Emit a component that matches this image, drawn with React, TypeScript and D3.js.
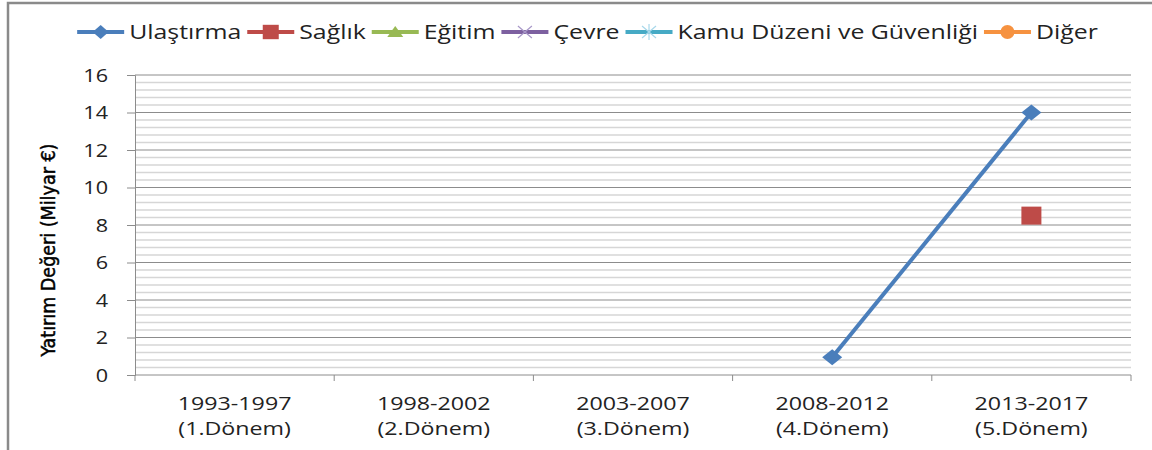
import React, { useEffect, useRef } from "react";
import * as d3 from "d3";

// periods on the x axis
const periods = ["1993-1997", "1998-2002", "2003-2007", "2008-2012", "2013-2017"];
const periodNames = ["(1.Dönem)", "(2.Dönem)", "(3.Dönem)", "(4.Dönem)", "(5.Dönem)"];

// series values (Milyar €), null = no value
const ulastirma = [null, null, null, 0.95, 14];
const saglik = [null, null, null, null, 8.5];
const egitim = [null, null, null, null, null];
const cevre = [null, null, null, null, null];
const kamuDuzeni = [null, null, null, null, null];
const diger = [null, null, null, null, null];

const seriesNames = ["Ulaştırma", "Sağlık", "Eğitim", "Çevre", "Kamu Düzeni ve Güvenliği", "Diğer"];
const seriesColors = ["#4a7ebb", "#be4b48", "#98b954", "#7d60a0", "#46aac5", "#f69240"];
const seriesMarkers = ["diamond", "square", "triangle", "cross", "star", "circle"];
const seriesValues = [ulastirma, saglik, egitim, cevre, kamuDuzeni, diger];

const yTicks = [0, 2, 4, 6, 8, 10, 12, 14, 16];
const yLabel = "Yatırım Değeri (Milyar  €)";

const FONT = "'Open Sans', 'Noto Sans', sans-serif";
const SX = 1.2; // the original text is a bit wide

function drawMarker(g, type, cx, cy, color, legend) {
  if (type === "diamond") {
    const w = legend ? 8 : 10, h = legend ? 7 : 8;
    g.append("path")
      .attr("d", `M${cx - w},${cy}L${cx},${cy - h}L${cx + w},${cy}L${cx},${cy + h}Z`)
      .attr("fill", color);
  } else if (type === "square") {
    const s = legend ? 8 : 10;
    g.append("rect")
      .attr("x", cx - s).attr("y", cy - s * 0.9)
      .attr("width", s * 2).attr("height", s * 1.8)
      .attr("fill", color);
  } else if (type === "triangle") {
    g.append("path")
      .attr("d", `M${cx - 8},${cy + 5}L${cx},${cy - 6}L${cx + 8},${cy + 5}Z`)
      .attr("fill", color);
  } else if (type === "cross") {
    g.append("path")
      .attr("d", `M${cx - 7},${cy - 6}L${cx + 7},${cy + 6}M${cx - 7},${cy + 6}L${cx + 7},${cy - 6}`)
      .attr("stroke", "#a898c8").attr("stroke-width", 1.2).attr("fill", "none");
  } else if (type === "star") {
    g.append("path")
      .attr("d", `M${cx - 7},${cy - 6}L${cx + 7},${cy + 6}M${cx - 7},${cy + 6}L${cx + 7},${cy - 6}M${cx},${cy - 8}L${cx},${cy + 8}`)
      .attr("stroke", "#a8d8ea").attr("stroke-width", 1.2).attr("fill", "none");
  } else if (type === "circle") {
    g.append("circle").attr("cx", cx).attr("cy", cy).attr("r", 7).attr("fill", color);
  }
}

function wideText(g, x, y, str, size, anchor, sx = SX) {
  return g.append("text")
    .attr("transform", `translate(${x},${y}) scale(${sx},1)`)
    .attr("text-anchor", anchor)
    .attr("font-family", FONT)
    .attr("font-size", size)
    .attr("fill", "#222")
    .text(str);
}

function Chart() {
  const ref = useRef(null);

  useEffect(() => {
    const svg = d3.select(ref.current);
    svg.selectAll("*").remove();

    const width = 1152;
    const margin = { top: 75, right: 21, bottom: 75, left: 135 };
    const plotBottom = 375;

    const x = d3.scaleBand().domain(periods).range([margin.left, width - margin.right]);
    const y = d3.scaleLinear().domain([0, 16]).range([plotBottom, margin.top]);

    // outer frame
    svg.append("path")
      .attr("d", "M8,450L8,3L1152,3")
      .attr("fill", "none")
      .attr("stroke", "#8a8a8a")
      .attr("stroke-width", 2.5);

    // minor gridlines
    const minor = d3.range(0, 16.001, 0.4).filter((v) => Math.abs(v / 2 - Math.round(v / 2)) > 0.01);
    svg.append("g")
      .selectAll("line")
      .data(minor)
      .enter()
      .append("line")
      .attr("x1", margin.left).attr("x2", width - margin.right)
      .attr("y1", (d) => y(d)).attr("y2", (d) => y(d))
      .attr("stroke", "#d6d6d6")
      .attr("stroke-width", 1.5);

    // major gridlines
    svg.append("g")
      .selectAll("line")
      .data(yTicks.filter((d) => d > 0))
      .enter()
      .append("line")
      .attr("x1", margin.left).attr("x2", width - margin.right)
      .attr("y1", (d) => y(d)).attr("y2", (d) => y(d))
      .attr("stroke", "#8c8c8c")
      .attr("stroke-width", 1);

    // y axis
    const yAxis = d3.axisLeft(y).tickValues(yTicks).tickSize(8).tickFormat(() => "");
    const yg = svg.append("g").attr("transform", `translate(${margin.left},0)`).call(yAxis);
    yg.select(".domain").attr("stroke", "#8c8c8c");
    yg.selectAll(".tick line").attr("stroke", "#8c8c8c");
    const yl = svg.append("g");
    yTicks.forEach((t) => wideText(yl, 108, y(t) + 6.5, String(t), 18, "end"));

    // x axis
    svg.append("line")
      .attr("x1", margin.left).attr("x2", width - margin.right)
      .attr("y1", plotBottom).attr("y2", plotBottom)
      .attr("stroke", "#8c8c8c");
    const bounds = periods.map((p) => x(p)).concat([x.range()[1]]);
    svg.append("g")
      .selectAll("line")
      .data(bounds)
      .enter()
      .append("line")
      .attr("x1", (d) => d).attr("x2", (d) => d)
      .attr("y1", plotBottom).attr("y2", plotBottom + 6)
      .attr("stroke", "#8c8c8c");

    // two-line category labels
    const xl = svg.append("g");
    periods.forEach((p, i) => {
      const cx = x(p) + x.bandwidth() / 2;
      wideText(xl, cx, 410, p, 18, "middle", 1.29);
      wideText(xl, cx, 435, periodNames[i], 18, "middle", 1.29);
    });

    // y axis title
    svg.append("text")
      .attr("transform", `translate(55,250) rotate(-90)`)
      .attr("text-anchor", "middle")
      .attr("font-family", "'Liberation Sans Narrow', 'DejaVu Sans Condensed', sans-serif")
      .attr("font-size", 19.5)
      .attr("fill", "#000")
      .attr("stroke", "#000")
      .attr("stroke-width", 0.45)
      .text(yLabel);

    // series
    const cx = (i) => x(periods[i]) + x.bandwidth() / 2;
    const line = d3.line()
      .defined((d) => d != null)
      .x((d, i) => cx(i))
      .y((d) => y(d));

    seriesValues.forEach((vals, si) => {
      svg.append("path")
        .datum(vals)
        .attr("d", line)
        .attr("fill", "none")
        .attr("stroke", seriesColors[si])
        .attr("stroke-width", 4);
      const mg = svg.append("g");
      vals.forEach((v, i) => {
        if (v != null) drawMarker(mg, seriesMarkers[si], cx(i), y(v), seriesColors[si], false);
      });
    });

    // legend
    const lg = svg.append("g");
    const legendY = 32;
    const items = [];
    let pos = 0;
    seriesNames.forEach((name, i) => {
      const g = lg.append("g");
      g.append("line")
        .attr("x1", 0).attr("x2", 47)
        .attr("y1", legendY).attr("y2", legendY)
        .attr("stroke", seriesColors[i])
        .attr("stroke-width", 4);
      drawMarker(g, seriesMarkers[i], 23.5, legendY, seriesColors[i], true);
      const t = wideText(g, 52, legendY + 7, name, 20.7, "start");
      const w = t.node().getComputedTextLength() * SX;
      items.push({ g, pos });
      pos += 52 + w + 6;
    });
    const total = pos - 6;
    const start = 587.5 - total / 2;
    items.forEach((it) => it.g.attr("transform", `translate(${start + it.pos},0)`));
  }, []);

  return <svg ref={ref} width={1152} height={450} style={{ position: "absolute", left: 0, top: 0, background: "#fff" }} />;
}

export default function App() {
  return <Chart />;
}
